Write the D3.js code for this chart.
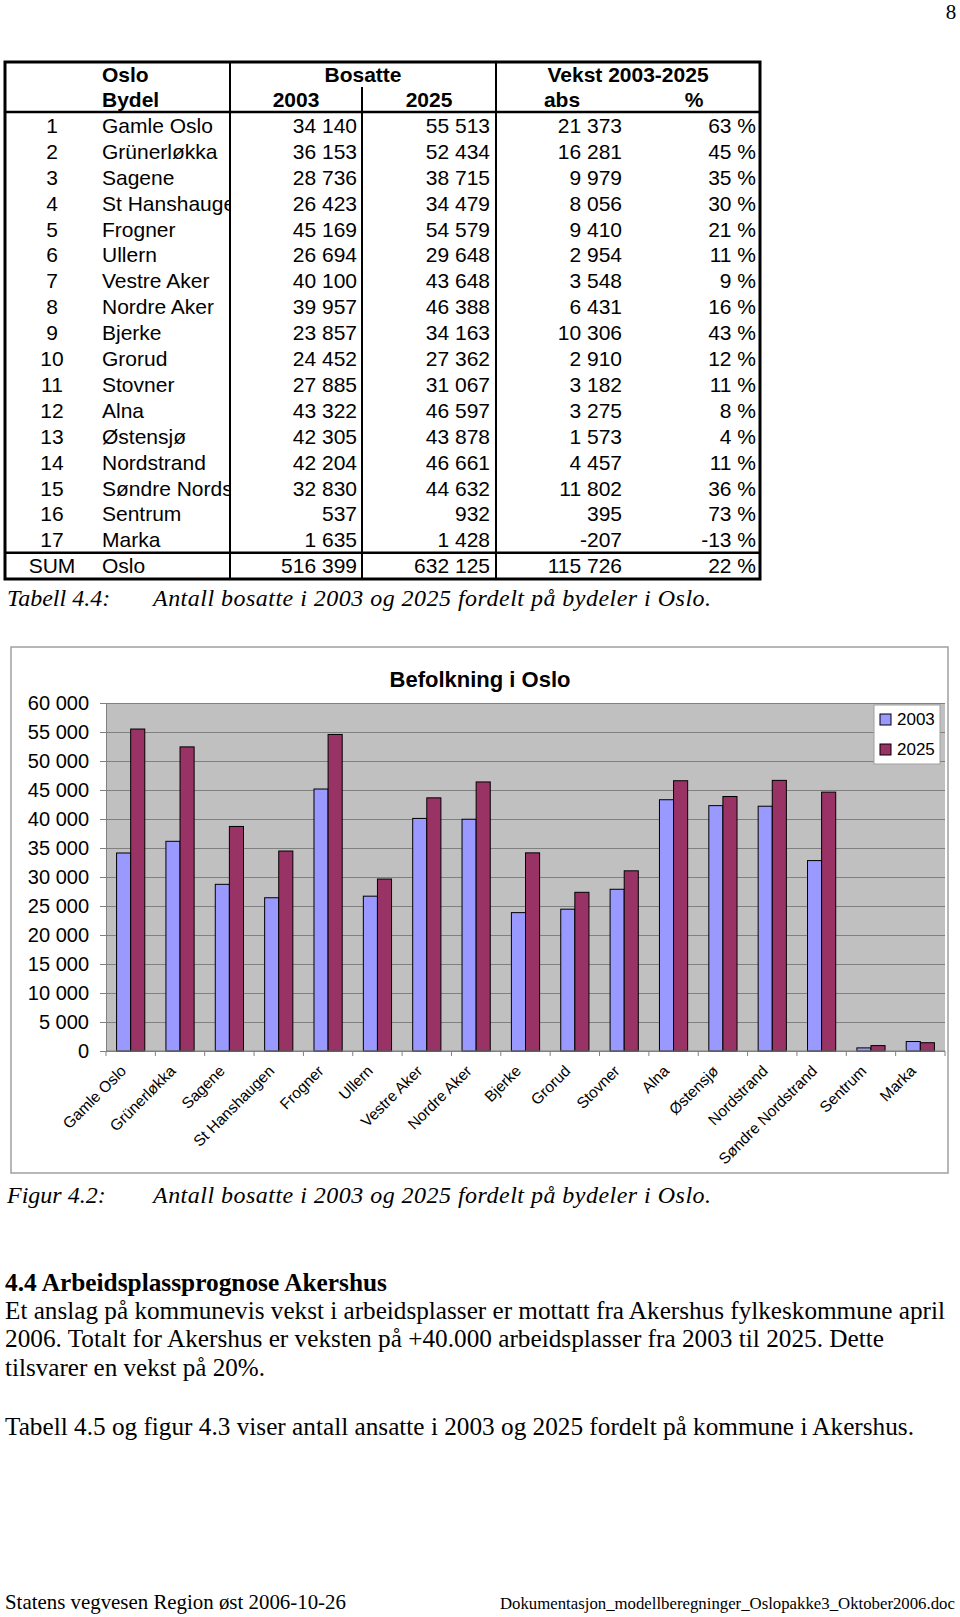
<!DOCTYPE html>
<html>
<head>
<meta charset="utf-8">
<script src="https://cdn.jsdelivr.net/npm/d3@7"></script>
<style>
body { margin: 0; background: #fff; }
svg { display: block; }
</style>
</head>
<body>
<div id="main"></div>
<script>
const width = 960, height = 1617;
const sans = "'Liberation Sans', Arial, Helvetica, sans-serif";
const serif = "'Liberation Serif', 'Times New Roman', serif";

// data (Tabell 4.4)
const bydeler = ["Gamle Oslo", "Grünerløkka", "Sagene", "St Hanshaugen", "Frogner", "Ullern",
    "Vestre Aker", "Nordre Aker", "Bjerke", "Grorud", "Stovner", "Alna", "Østensjø",
    "Nordstrand", "Søndre Nordstrand", "Sentrum", "Marka"];
const bosatte2003 = [34140, 36153, 28736, 26423, 45169, 26694, 40100, 39957, 23857, 24452, 27885, 43322, 42305, 42204, 32830, 537, 1635];
const bosatte2025 = [55513, 52434, 38715, 34479, 54579, 29648, 43648, 46388, 34163, 27362, 31067, 46597, 43878, 46661, 44632, 932, 1428];
const vekstAbs = [21373, 16281, 9979, 8056, 9410, 2954, 3548, 6431, 10306, 2910, 3182, 3275, 1573, 4457, 11802, 395, -207];
const vekstPct = [63, 45, 35, 30, 21, 11, 9, 16, 43, 12, 11, 8, 4, 11, 36, 73, -13];
const sumOslo = [516399, 632125, 115726, 22];
const series = ["2003", "2025"];
const colors = ["#9999ff", "#993366"];
const yTicks = [0, 5000, 10000, 15000, 20000, 25000, 30000, 35000, 40000, 45000, 50000, 55000, 60000];

const no = d3.formatLocale({decimal: ",", thousands: " ", grouping: [3], currency: ["", ""], minus: "-"});
const fmt = no.format(",d");

let svg = d3.select("#main").append("svg")
    .attr("width", width)
    .attr("height", height);

// page number
svg.append("text").attr("x", 951).attr("y", 19).attr("text-anchor", "middle")
    .style("font-family", serif).style("font-size", "21px").text("8");

/* ---------- table ---------- */
const tbl = svg.append("g").style("font-family", sans).style("font-size", "21px").attr("fill", "#000");
const rowTop = d3.scaleLinear().domain([0, 18]).range([112.5, 578.7]);
const rh = rowTop(1) - rowTop(0);

// name column is cut at its right border, like the original cells
svg.append("defs").append("clipPath").attr("id", "namecol")
    .append("rect").attr("x", 5).attr("y", -2000).attr("width", 224).attr("height", 4000);

const head = tbl.append("g").style("font-weight", "bold");
[["Oslo", 102, 82, "start"], ["Bosatte", 363, 82, "middle"], ["Vekst 2003-2025", 628, 82, "middle"],
 ["Bydel", 102, 107, "start"], ["2003", 296, 107, "middle"], ["2025", 429, 107, "middle"],
 ["abs", 562, 107, "middle"], ["%", 694, 107, "middle"]].forEach(h => {
    head.append("text").attr("x", h[1]).attr("y", h[2]).attr("text-anchor", h[3]).text(h[0]);
});

const rows = tbl.selectAll("g.row")
    .data(bydeler.map((d, i) => ({
        nr: String(i + 1), name: d, a: bosatte2003[i], b: bosatte2025[i], abs: vekstAbs[i], pct: vekstPct[i]
    })).concat([{nr: "SUM", name: "Oslo", a: sumOslo[0], b: sumOslo[1], abs: sumOslo[2], pct: sumOslo[3]}]))
    .join("g")
    .attr("class", "row")
    .attr("transform", (d, i) => `translate(0,${rowTop(i) + rh / 2 + 7.5})`);

rows.append("text").attr("x", 52).attr("text-anchor", "middle").text(d => d.nr);
rows.append("text").attr("x", 102).attr("clip-path", "url(#namecol)").text(d => d.name);
rows.append("text").attr("x", 357).attr("text-anchor", "end").text(d => fmt(d.a));
rows.append("text").attr("x", 490).attr("text-anchor", "end").text(d => fmt(d.b));
rows.append("text").attr("x", 622).attr("text-anchor", "end").text(d => fmt(d.abs));
rows.append("text").attr("x", 756).attr("text-anchor", "end").text(d => d.pct + " %");

const lines = tbl.append("g").attr("stroke", "#000").attr("fill", "none");
lines.append("rect").attr("x", 5).attr("y", 62).attr("width", 755).attr("height", 517).attr("stroke-width", 3);
lines.append("line").attr("x1", 230).attr("x2", 230).attr("y1", 62).attr("y2", 579).attr("stroke-width", 2);
lines.append("line").attr("x1", 496).attr("x2", 496).attr("y1", 62).attr("y2", 579).attr("stroke-width", 2);
lines.append("line").attr("x1", 362).attr("x2", 362).attr("y1", 87).attr("y2", 579).attr("stroke-width", 2);
lines.append("line").attr("x1", 5).attr("x2", 760).attr("y1", 112).attr("y2", 112).attr("stroke-width", 2.5);
lines.append("line").attr("x1", 5).attr("x2", 760).attr("y1", rowTop(17)).attr("y2", rowTop(17)).attr("stroke-width", 2.5);

// captions
function caption(y, label, txt) {
    const g = svg.append("g").style("font-family", serif).style("font-style", "italic").style("font-size", "24px");
    g.append("text").attr("x", 7).attr("y", y).text(label);
    g.append("text").attr("x", 153).attr("y", y).attr("textLength", 558).attr("lengthAdjust", "spacing").text(txt);
}
caption(606, "Tabell 4.4:", "Antall bosatte i 2003 og 2025 fordelt på bydeler i Oslo.");

/* ---------- chart ---------- */
const plot = {left: 106, right: 945, top: 703, bottom: 1051};
const chart = svg.append("g").style("font-family", sans);

chart.append("rect").attr("x", 11).attr("y", 647).attr("width", 937).attr("height", 526)
    .attr("fill", "#fff").attr("stroke", "#a0a0a0").attr("stroke-width", 1.5);

chart.append("text").attr("x", 480).attr("y", 687).attr("text-anchor", "middle")
    .style("font-size", "22px").style("font-weight", "bold").text("Befolkning i Oslo");

const x0 = d3.scaleBand().domain(bydeler).range([plot.left, plot.right]).padding(0);
const x1 = d3.scaleBand().domain(series).range([0, x0.bandwidth()]).paddingInner(0).paddingOuter(0.75);
const y = d3.scaleLinear().domain([0, 60000]).range([plot.bottom, plot.top]);

chart.append("rect").attr("x", plot.left).attr("y", plot.top)
    .attr("width", plot.right - plot.left).attr("height", plot.bottom - plot.top).attr("fill", "#c0c0c0");

// gridlines + y axis
const yAxis = chart.append("g")
    .attr("transform", `translate(${plot.left},0)`)
    .call(d3.axisLeft(y).tickValues(yTicks).tickSize(6).tickPadding(11).tickFormat(fmt));
yAxis.select(".domain").attr("stroke", "#808080");
yAxis.selectAll(".tick line").attr("stroke", "#808080");
yAxis.selectAll(".tick text").style("font-family", sans).style("font-size", "20px").attr("fill", "#000");
yAxis.selectAll(".tick").append("line").attr("x1", 0).attr("x2", plot.right - plot.left).attr("stroke", "#808080");

// bars
const groups = chart.append("g").selectAll("g")
    .data(bydeler.map((d, i) => ({name: d, vals: [bosatte2003[i], bosatte2025[i]]})))
    .join("g")
    .attr("transform", d => `translate(${x0(d.name)},0)`);
groups.selectAll("rect")
    .data(d => d.vals.map((v, k) => ({key: series[k], v: v, k: k})))
    .join("rect")
    .attr("x", d => x1(d.key))
    .attr("y", d => y(d.v))
    .attr("width", x1.bandwidth())
    .attr("height", d => y(0) - y(d.v))
    .attr("fill", d => colors[d.k])
    .attr("stroke", "#000")
    .attr("stroke-width", 1);

// x axis
const xa = chart.append("g").attr("stroke", "#808080");
xa.append("line").attr("x1", plot.left).attr("x2", plot.right).attr("y1", plot.bottom).attr("y2", plot.bottom);
xa.selectAll("line.tk").data(bydeler.concat(["end"])).join("line").attr("class", "tk")
    .attr("x1", (d, i) => plot.left + i * x0.step()).attr("x2", (d, i) => plot.left + i * x0.step())
    .attr("y1", plot.bottom).attr("y2", plot.bottom + 5);

chart.append("g").selectAll("text").data(bydeler).join("text")
    .attr("text-anchor", "end")
    .attr("transform", d => `translate(${x0(d) + x0.bandwidth() / 2 - 3.5},${plot.bottom + 21}) rotate(-45)`)
    .style("font-size", "15.5px")
    .text(d => d);

// legend
const lg = chart.append("g");
lg.append("rect").attr("x", 874).attr("y", 705).attr("width", 66).attr("height", 59)
    .attr("fill", "#fff").attr("stroke", "#a0a0a0");
series.forEach((s, k) => {
    lg.append("rect").attr("x", 880).attr("y", 714 + k * 30).attr("width", 11).attr("height", 11)
        .attr("fill", colors[k]).attr("stroke", "#000");
    lg.append("text").attr("x", 897).attr("y", 725 + k * 30).style("font-size", "17px").text(s);
});

caption(1203, "Figur 4.2:", "Antall bosatte i 2003 og 2025 fordelt på bydeler i Oslo.");

/* ---------- body text ---------- */
const body = svg.append("g").style("font-family", serif).style("font-size", "25px");
body.append("text").attr("x", 5).attr("y", 1291).style("font-weight", "bold")
    .attr("textLength", 382).attr("lengthAdjust", "spacingAndGlyphs").text("4.4 Arbeidsplassprognose Akershus");
[["Et anslag på kommunevis vekst i arbeidsplasser er mottatt fra Akershus fylkeskommune april", 1319, 940],
 ["2006. Totalt for Akershus er veksten på +40.000 arbeidsplasser fra 2003 til 2025. Dette", 1347, 879],
 ["tilsvarer en vekst på 20%.", 1376, 260],
 ["Tabell 4.5 og figur 4.3 viser antall ansatte i 2003 og 2025 fordelt på kommune i Akershus.", 1435, 909]
].forEach(l => {
    body.append("text").attr("x", 5).attr("y", l[1]).attr("textLength", l[2])
        .attr("lengthAdjust", "spacingAndGlyphs").text(l[0]);
});

// footer: sized so each line fills its width without squeezing
function fitText(t, w) {
    const fs = parseFloat(t.style("font-size"));
    const len = t.node().getComputedTextLength();
    t.style("font-size", (fs * w / len).toFixed(2) + "px");
}
const foot = svg.append("g").style("font-family", serif);
fitText(foot.append("text").attr("x", 5).attr("y", 1609).style("font-size", "21px")
    .text("Statens vegvesen Region øst 2006-10-26"), 341);
fitText(foot.append("text").attr("x", 500).attr("y", 1609).style("font-size", "18px")
    .text("Dokumentasjon_modellberegninger_Oslopakke3_Oktober2006.doc"), 455);
</script>
</body>
</html>
